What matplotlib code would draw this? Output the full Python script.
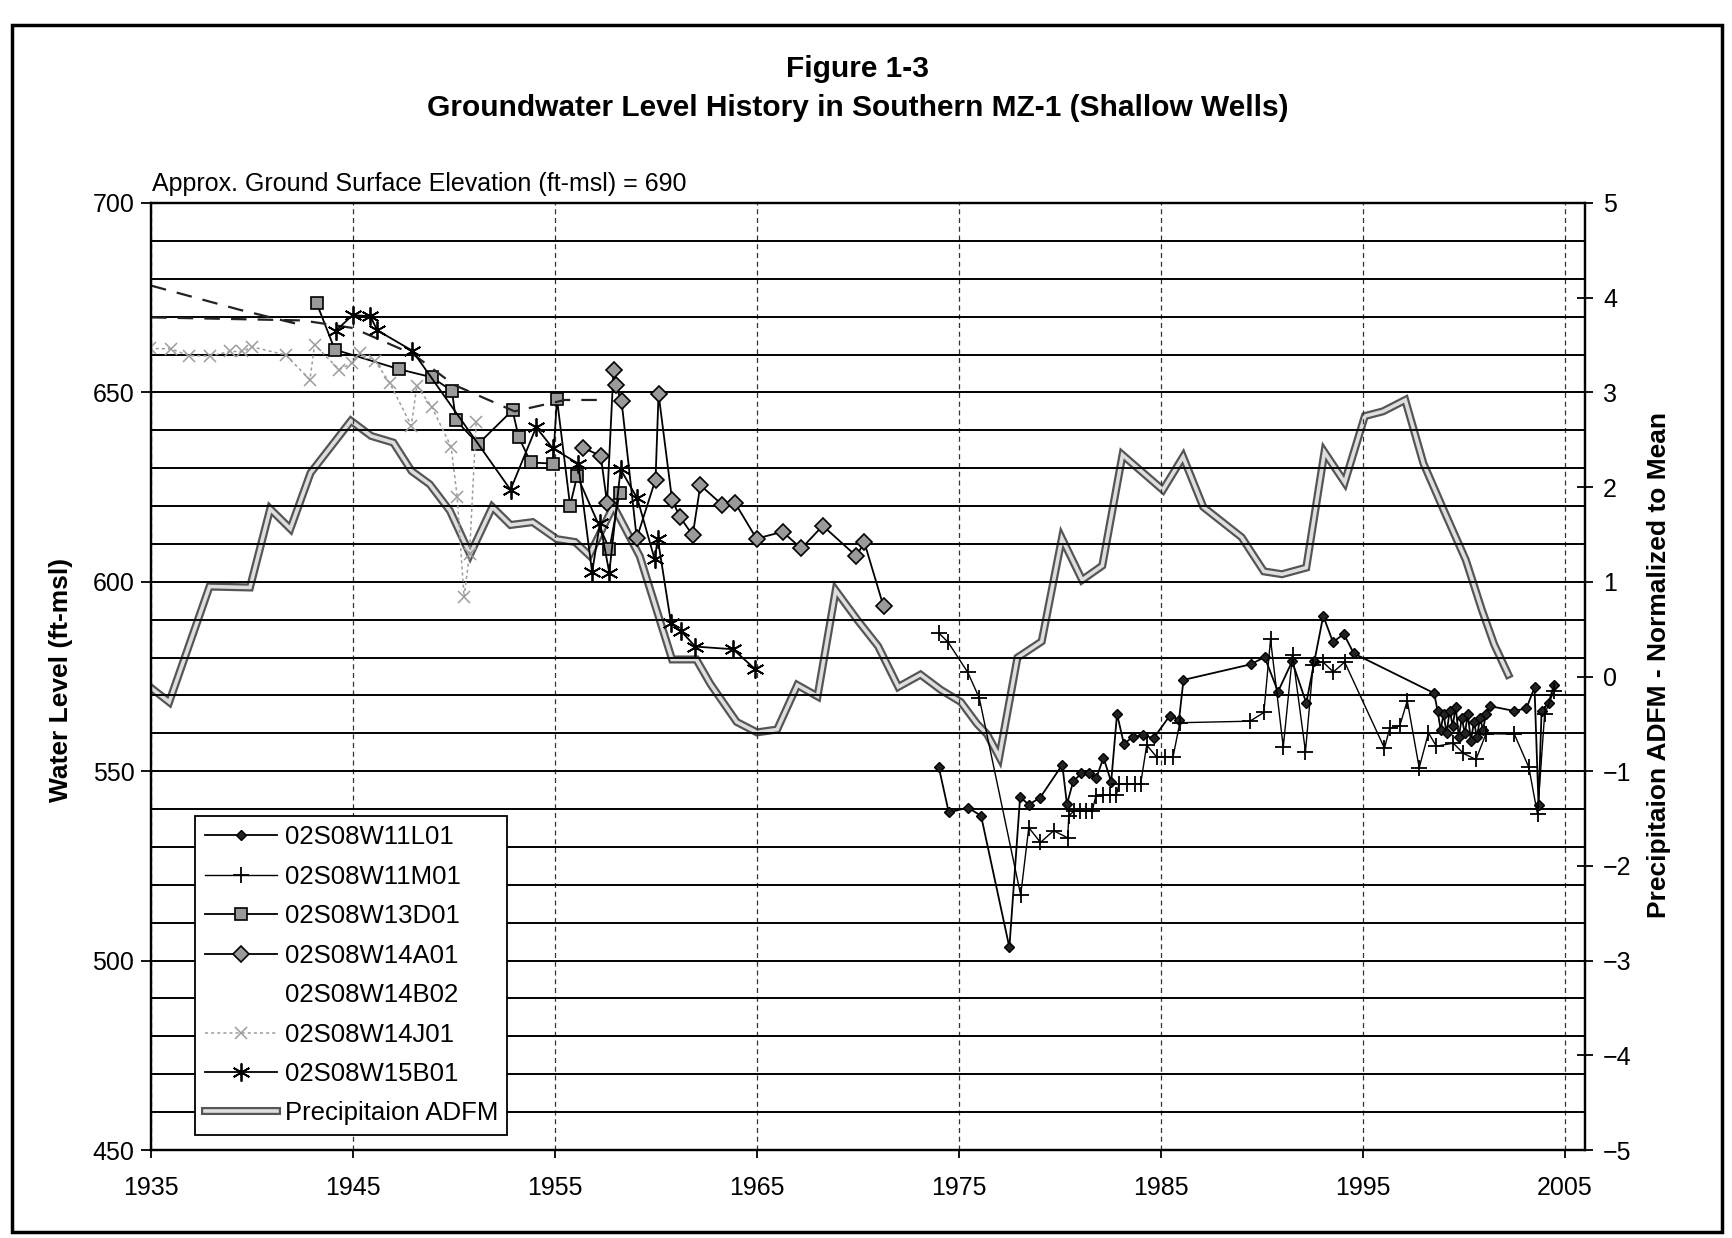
import matplotlib
matplotlib.use("Agg")
import matplotlib.pyplot as plt
import matplotlib.patheffects as pe
from matplotlib.lines import Line2D
from matplotlib.patches import Rectangle
from matplotlib.ticker import MultipleLocator
import numpy as np

plt.rcParams["font.family"] = ["Liberation Sans", "DejaVu Sans"]

# precipitation ADFM (right axis, normalized to mean)
precip_years = [1935.0, 1935.9, 1937.9, 1939.9, 1940.9, 1941.9, 1942.9, 1944.9, 1945.9, 1947.0,
                1947.9, 1948.8, 1949.8, 1950.8, 1951.9, 1952.8, 1953.9, 1955.1, 1956.0, 1956.7,
                1957.9, 1959.2, 1960.8, 1962.0, 1962.7, 1964.0, 1965.0, 1966.0, 1967.0, 1968.0,
                1968.9, 1970.0, 1971.0, 1972.0, 1973.1, 1974.1, 1975.1, 1975.9, 1976.4, 1977.0,
                1977.9, 1979.1, 1980.1, 1981.1, 1982.1, 1983.1, 1985.1, 1986.1, 1987.1, 1989.0,
                1990.1, 1991.0, 1992.2, 1993.1, 1994.1, 1995.1, 1996.0, 1997.1, 1998.0, 1999.0,
                2000.1, 2000.9, 2001.5, 2002.2]
precip_adfm = [-0.12, -0.27, 0.95, 0.94, 1.77, 1.56, 2.15, 2.70, 2.54, 2.47,
               2.17, 2.03, 1.75, 1.29, 1.79, 1.60, 1.63, 1.45, 1.42, 1.28,
               1.80, 1.27, 0.18, 0.18, -0.08, -0.48, -0.59, -0.56, -0.09, -0.21,
               0.91, 0.59, 0.32, -0.11, 0.02, -0.14, -0.27, -0.50, -0.61, -0.85,
               0.20, 0.37, 1.46, 1.02, 1.17, 2.34, 1.97, 2.32, 1.79, 1.47,
               1.11, 1.08, 1.15, 2.37, 2.05, 2.75, 2.80, 2.92, 2.25, 1.76,
               1.23, 0.70, 0.34, 0.02]

# 02S08W11L01
l01_years = [1974.0, 1974.5, 1975.45, 1976.1, 1977.5, 1978.03, 1978.47, 1979.02, 1980.12, 1980.35,
             1980.66, 1981.06, 1981.46, 1981.8, 1982.16, 1982.54, 1982.83, 1983.17, 1983.6, 1984.1,
             1984.64, 1985.45, 1985.9, 1986.12, 1989.44, 1990.14, 1990.8, 1991.5, 1992.2, 1992.6,
             1993.04, 1993.52, 1994.06, 1994.55, 1998.53, 1998.7, 1998.85, 1999.0, 1999.15, 1999.3,
             1999.45, 1999.6, 1999.75, 1999.9, 2000.05, 2000.2, 2000.35, 2000.5, 2000.65, 2000.8,
             2000.95, 2001.1, 2001.28, 2002.5, 2003.1, 2003.5, 2003.7, 2003.85, 2004.2, 2004.46]
l01_level = [551.2, 539.1, 540.4, 538.2, 503.5, 543.1, 541.2, 543.0, 551.7, 541.3,
             547.3, 549.4, 549.4, 548.1, 553.6, 547.2, 565.1, 557.2, 559.0, 559.5,
             558.7, 564.7, 563.6, 574.1, 578.2, 580.1, 571.0, 579.0, 568.0, 579.0,
             591.0, 584.1, 586.2, 581.1, 570.6, 566.0, 561.0, 565.0, 560.0, 566.0,
             562.0, 567.0, 559.0, 564.0, 560.0, 565.0, 558.0, 563.0, 559.0, 564.0,
             561.0, 565.0, 567.2, 565.9, 566.6, 572.1, 541.0, 566.0, 568.0, 572.8]

# 02S08W11M01
m01_years = [1974.0, 1974.46, 1975.44, 1976.01, 1978.06, 1978.46, 1979.04, 1979.69, 1980.39, 1980.44,
             1980.7, 1981.0, 1981.3, 1981.6, 1981.78, 1982.15, 1982.5, 1982.8, 1982.93, 1983.3,
             1983.7, 1984.0, 1984.3, 1984.8, 1985.2, 1985.6, 1985.94, 1989.41, 1990.1, 1990.43,
             1991.06, 1991.52, 1992.16, 1992.54, 1993.01, 1993.54, 1994.1, 1996.07, 1996.33, 1996.83,
             1997.2, 1997.79, 1998.25, 1998.64, 1999.48, 1999.98, 2000.6, 2001.1, 2002.5, 2003.22,
             2003.65, 2004.0, 2004.46]
m01_level = [586.5, 584.1, 576.1, 569.3, 517.3, 535.1, 531.2, 534.3, 532.4, 538.2,
             539.5, 539.5, 539.5, 539.5, 543.4, 543.8, 543.8, 543.8, 546.7, 546.7,
             546.7, 546.7, 556.9, 553.7, 553.7, 553.7, 562.8, 563.2, 565.5, 584.8,
             556.4, 580.8, 555.2, 578.1, 578.9, 576.2, 578.8, 556.1, 561.3, 562.0,
             568.6, 550.9, 560.1, 556.6, 557.4, 554.7, 553.1, 559.9, 559.8, 551.0,
             538.6, 565.0, 571.2]

# 02S08W13D01
d01_years = [1943.2, 1944.1, 1947.3, 1948.9, 1949.9, 1950.1, 1951.2, 1952.9, 1953.2, 1953.8,
             1954.9, 1955.1, 1955.75, 1956.1, 1957.7, 1958.2]
d01_level = [673.6, 661.3, 656.1, 654.0, 650.4, 642.6, 636.4, 645.3, 638.3, 631.5,
             631.2, 648.3, 620.1, 628.0, 608.6, 623.4]

# 02S08W14A01
a01_years = [1956.4, 1957.27, 1957.58, 1957.9, 1958.0, 1958.3, 1959.05, 1959.98, 1960.13, 1960.8,
             1961.19, 1961.82, 1962.2, 1963.27, 1963.92, 1964.98, 1966.27, 1967.2, 1968.26, 1969.92,
             1970.32, 1971.27]
a01_level = [635.4, 633.2, 620.8, 656.0, 652.0, 647.6, 611.5, 627.0, 649.6, 621.6,
             617.1, 612.3, 625.5, 620.4, 620.8, 611.4, 613.2, 608.8, 614.8, 606.8,
             610.4, 593.5]

# 02S08W14B02 (only faint dashed traces, two pieces)
b02_years = [1935.0, 1939.4, 1942.3, np.nan, 1935.0, 1942.5, 1945.0, 1948.0, 1950.0, 1953.0, 1955.5, 1957.3]
b02_level = [678.2, 671.8, 668.0, np.nan, 669.8, 669.0, 667.0, 660.0, 652.0, 645.0, 648.0, 648.0]

# 02S08W14J01
j01_years = [1934.93, 1935.97, 1936.9, 1937.93, 1938.92, 1939.52, 1940.02, 1941.66, 1942.87, 1943.1,
             1944.32, 1944.96, 1945.37, 1946.1, 1946.83, 1947.89, 1948.16, 1948.9, 1949.86, 1950.16,
             1950.5, 1950.77, 1951.1]
j01_level = [661.6, 661.5, 659.7, 659.6, 660.8, 660.8, 662.0, 659.9, 653.4, 662.6,
             656.0, 657.8, 660.3, 658.2, 652.4, 641.2, 651.7, 646.2, 635.6, 622.4,
             596.0, 607.3, 642.1]

# 02S08W15B01
b01_years = [1944.14, 1944.98, 1945.86, 1946.2, 1947.94, 1952.8, 1954.07, 1954.9, 1956.15, 1956.84,
             1957.23, 1957.69, 1958.25, 1959.08, 1959.94, 1960.09, 1960.75, 1961.26, 1961.95, 1963.82,
             1964.9]
b01_level = [666.2, 670.4, 670.1, 666.4, 661.0, 624.3, 640.8, 635.2, 631.2, 602.5,
             615.6, 602.4, 629.7, 622.0, 605.9, 611.4, 589.0, 586.9, 582.9, 582.2,
             577.0]

fig = plt.figure(figsize=(17.32, 12.38), dpi=100)
ax = fig.add_axes([151 / 1732, 88 / 1238, (1585 - 151) / 1732, (1150 - 203) / 1238])
ax2 = ax.twinx()
ax.set_zorder(ax2.get_zorder() + 1)
ax.patch.set_visible(False)

# precipitation: hollow grey band
(p_line,) = ax2.plot(precip_years, precip_adfm, color="#dedede", lw=2.6,
                     solid_joinstyle="miter", label="Precipitaion ADFM")
p_line.set_path_effects([pe.Stroke(linewidth=5.8, foreground="#555555"), pe.Normal()])

(h_l01,) = ax.plot(l01_years, l01_level, color="black", lw=1.3, marker="D", ms=5,
                   mfc="#222222", mec="black", label="02S08W11L01")
(h_m01,) = ax.plot(m01_years, m01_level, color="black", lw=1.0, marker="+", ms=12,
                   mew=1.3, label="02S08W11M01")
(h_d01,) = ax.plot(d01_years, d01_level, color="black", lw=1.3, marker="s", ms=9,
                   mfc="#9a9a9a", mec="black", mew=1.2, label="02S08W13D01")
(h_a01,) = ax.plot(a01_years, a01_level, color="black", lw=1.3, marker="D", ms=8,
                   mfc="#9a9a9a", mec="black", mew=1.2, label="02S08W14A01")
ax.plot(b02_years, b02_level, color="#222222", lw=1.6, dashes=(7, 5))
h_b02 = Line2D([], [], linestyle="none", label="02S08W14B02")
(h_j01,) = ax.plot(j01_years, j01_level, color="#9c9c9c", lw=1.1, ls=(0, (2, 2)),
                   marker="x", ms=9, mew=1.1, label="02S08W14J01")
(h_b01,) = ax.plot(b01_years, b01_level, color="black", lw=1.3, marker=(6, 2, 0), ms=13,
                   mew=1.3, label="02S08W15B01")

ax.set_xlim(1935, 2006)
ax.set_ylim(450, 700)
ax2.set_ylim(-5, 5)
ax.set_xticks(np.arange(1935, 2006, 10))
ax.yaxis.set_major_locator(MultipleLocator(50))
ax.yaxis.set_minor_locator(MultipleLocator(10))
ax2.yaxis.set_major_locator(MultipleLocator(1))

ax.grid(which="both", axis="y", color="black", lw=1.4)
ax.grid(which="major", axis="x", color="#333333", lw=0.9, ls=(0, (4, 3)))
ax.tick_params(which="minor", length=0)
ax.tick_params(axis="y", which="major", labelsize=18, length=7, width=1.3, pad=5)
ax.tick_params(axis="x", which="major", labelsize=18, length=6, width=1.3, pad=13)
ax2.tick_params(axis="y", labelsize=18, length=12, width=1.3, direction="inout", pad=7)
for sp in list(ax.spines.values()) + list(ax2.spines.values()):
    sp.set_linewidth(1.6)

fig.text(0.495, 0.944, "Figure 1-3", ha="center", va="center", fontsize=21.5, fontweight="bold")
fig.text(0.495, 0.9125, "Groundwater Level History in Southern MZ-1 (Shallow Wells)",
         ha="center", va="center", fontsize=21.5, fontweight="bold")
fig.text(152 / 1732, 0.851, "Approx. Ground Surface Elevation (ft-msl) = 690",
         ha="left", va="center", fontsize=18)
fig.text(0.035, 0.451, "Water Level (ft-msl)", rotation=90, ha="center", va="center",
         fontsize=19, fontweight="bold")
fig.text(0.958, 0.463, "Precipitaion ADFM - Normalized to Mean", rotation=90,
         ha="center", va="center", fontsize=19, fontweight="bold")

leg = ax.legend(handles=[h_l01, h_m01, h_d01, h_a01, h_b02, h_j01, h_b01, p_line],
                loc="lower left", bbox_to_anchor=(0.031, 0.016), borderaxespad=0,
                fontsize=18.5, frameon=True, fancybox=False, edgecolor="black",
                framealpha=1, handlelength=2.8, labelspacing=0.6, borderpad=0.37,
                handletextpad=0.3)
leg.get_frame().set_linewidth(1.3)

fig.add_artist(Rectangle((0.007, 0.005), 0.987, 0.975, transform=fig.transFigure,
                         fill=False, lw=2.5, edgecolor="black"))

fig.savefig("out.png", dpi=100, facecolor="white")
